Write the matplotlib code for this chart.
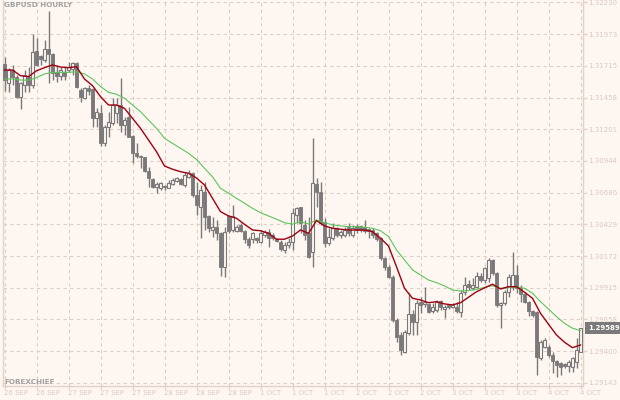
import matplotlib
matplotlib.use('Agg')
import matplotlib.pyplot as plt
import numpy as np

# ---------------- data (GBPUSD hourly) ----------------
opens = [
1.31728, 1.31574, 1.31682, 1.31628, 1.31466, 1.31560, 1.31628, 1.31560, 1.31836, 1.31798,
1.31763, 1.31852, 1.31812, 1.31668, 1.31636, 1.31668, 1.31682, 1.31690, 1.31736, 1.31520,
1.31453, 1.31534, 1.31528, 1.31295, 1.31333, 1.31092, 1.31222, 1.31250, 1.31333, 1.31398,
1.31236, 1.31303, 1.31147, 1.31011, 1.30984, 1.30974, 1.30865, 1.30798, 1.30730, 1.30725,
1.30741, 1.30727, 1.30757, 1.30784, 1.30795, 1.30749, 1.30816, 1.30844, 1.30668, 1.30573,
1.30695, 1.30498, 1.30384, 1.30406, 1.30362, 1.30081, 1.30498, 1.30384, 1.30378, 1.30425,
1.30376, 1.30309, 1.30309, 1.30317, 1.30289, 1.30343, 1.30370, 1.30343, 1.30309, 1.30289,
1.30222, 1.30262, 1.30289, 1.30506, 1.30568, 1.30425, 1.30357, 1.30208, 1.30757, 1.30695,
1.30451, 1.30276, 1.30317, 1.30398, 1.30343, 1.30343, 1.30411, 1.30343, 1.30417, 1.30417,
1.30406, 1.30390, 1.30384, 1.30357, 1.30317, 1.30154, 1.30086, 1.30005, 1.29654, 1.29532,
1.29397, 1.29546, 1.29703, 1.29640, 1.29802, 1.29784, 1.29784, 1.29727, 1.29735, 1.29810,
1.29741, 1.29776, 1.29762, 1.29762, 1.29721, 1.29883, 1.29946, 1.29911, 1.29924, 1.30011,
1.29978, 1.29992, 1.30141, 1.30033, 1.29776, 1.29789, 1.29883, 1.29924, 1.30019, 1.29911,
1.29862, 1.29802, 1.29727, 1.29721, 1.29343, 1.29437, 1.29437, 1.29370, 1.29321, 1.29303,
1.29294, 1.29283, 1.29272, 1.29316, 1.29397]

highs = [
1.31790, 1.31696, 1.31723, 1.31642, 1.31587, 1.31682, 1.31709, 1.31972, 1.31939, 1.31804,
1.31925, 1.32161, 1.31818, 1.31723, 1.31709, 1.31709, 1.31747, 1.31749, 1.31749, 1.31534,
1.31547, 1.31560, 1.31539, 1.31371, 1.31398, 1.31236, 1.31344, 1.31453, 1.31455, 1.31615,
1.31303, 1.31384, 1.31155, 1.31092, 1.30993, 1.30979, 1.30898, 1.30804, 1.30776, 1.30776,
1.30749, 1.30790, 1.30804, 1.30816, 1.30804, 1.30857, 1.30871, 1.30857, 1.30776, 1.30749,
1.30776, 1.30506, 1.30487, 1.30465, 1.30370, 1.30411, 1.30506, 1.30587, 1.30425, 1.30438,
1.30384, 1.30330, 1.30370, 1.30330, 1.30384, 1.30384, 1.30390, 1.30357, 1.30317, 1.30303,
1.30289, 1.30317, 1.30560, 1.30573, 1.30573, 1.30465, 1.30492, 1.31128, 1.30804, 1.30776,
1.30479, 1.30398, 1.30438, 1.30411, 1.30384, 1.30411, 1.30443, 1.30425, 1.30433, 1.30425,
1.30465, 1.30398, 1.30398, 1.30370, 1.30330, 1.30167, 1.30100, 1.30019, 1.29668, 1.29559,
1.29573, 1.29871, 1.29735, 1.29816, 1.29838, 1.29924, 1.29794, 1.29789, 1.29816, 1.29816,
1.29776, 1.29784, 1.29789, 1.29802, 1.29897, 1.30005, 1.29978, 1.29992, 1.30046, 1.30033,
1.30086, 1.30154, 1.30149, 1.30046, 1.29802, 1.29897, 1.30025, 1.30208, 1.30100, 1.29938,
1.29883, 1.29808, 1.29735, 1.29727, 1.29492, 1.29505, 1.29451, 1.29392, 1.29329, 1.29316,
1.29303, 1.29329, 1.29356, 1.29505, 1.29592]

lows = [
1.31512, 1.31506, 1.31560, 1.31453, 1.31366, 1.31506, 1.31501, 1.31534, 1.31717, 1.31723,
1.31749, 1.31574, 1.31601, 1.31587, 1.31601, 1.31601, 1.31666, 1.31642, 1.31534, 1.31425,
1.31447, 1.31479, 1.31222, 1.31222, 1.31066, 1.31066, 1.31141, 1.31236, 1.31252, 1.31182,
1.31155, 1.31136, 1.30930, 1.30966, 1.30885, 1.30857, 1.30730, 1.30727, 1.30687, 1.30709,
1.30709, 1.30725, 1.30749, 1.30773, 1.30749, 1.30735, 1.30804, 1.30654, 1.30506, 1.30317,
1.30384, 1.30370, 1.30330, 1.30303, 1.30013, 1.30005, 1.30357, 1.30370, 1.30370, 1.30368,
1.30276, 1.30236, 1.30276, 1.30276, 1.30276, 1.30330, 1.30248, 1.30303, 1.30287, 1.30216,
1.30200, 1.30238, 1.30222, 1.30438, 1.30357, 1.30303, 1.30154, 1.30086, 1.30573, 1.30425,
1.30248, 1.30262, 1.30303, 1.30330, 1.30317, 1.30330, 1.30335, 1.30330, 1.30357, 1.30370,
1.30357, 1.30317, 1.30317, 1.30297, 1.30141, 1.30060, 1.29992, 1.29640, 1.29478, 1.29370,
1.29384, 1.29532, 1.29532, 1.29532, 1.29708, 1.29762, 1.29713, 1.29708, 1.29721, 1.29735,
1.29668, 1.29743, 1.29751, 1.29708, 1.29681, 1.29857, 1.29897, 1.29897, 1.29911, 1.29965,
1.29952, 1.29965, 1.30019, 1.29762, 1.29591, 1.29776, 1.29843, 1.29897, 1.29871, 1.29802,
1.29789, 1.29689, 1.29681, 1.29208, 1.29329, 1.29429, 1.29356, 1.29221, 1.29194, 1.29208,
1.29262, 1.29234, 1.29234, 1.29262, 1.29392]

closes = [
1.31601, 1.31682, 1.31628, 1.31466, 1.31574, 1.31642, 1.31560, 1.31831, 1.31723, 1.31771,
1.31852, 1.31809, 1.31655, 1.31636, 1.31682, 1.31636, 1.31709, 1.31736, 1.31547, 1.31466,
1.31534, 1.31512, 1.31295, 1.31339, 1.31090, 1.31222, 1.31263, 1.31398, 1.31398, 1.31236,
1.31276, 1.31141, 1.31011, 1.30984, 1.30974, 1.30865, 1.30804, 1.30735, 1.30757, 1.30763,
1.30730, 1.30768, 1.30790, 1.30804, 1.30757, 1.30830, 1.30849, 1.30668, 1.30587, 1.30709,
1.30492, 1.30398, 1.30411, 1.30357, 1.30086, 1.30370, 1.30378, 1.30498, 1.30411, 1.30378,
1.30309, 1.30262, 1.30357, 1.30303, 1.30362, 1.30370, 1.30317, 1.30317, 1.30297, 1.30227,
1.30262, 1.30289, 1.30520, 1.30560, 1.30438, 1.30343, 1.30167, 1.30763, 1.30695, 1.30438,
1.30276, 1.30330, 1.30398, 1.30343, 1.30370, 1.30384, 1.30357, 1.30398, 1.30384, 1.30384,
1.30378, 1.30378, 1.30343, 1.30309, 1.30154, 1.30086, 1.30005, 1.29654, 1.29518, 1.29410,
1.29559, 1.29703, 1.29640, 1.29789, 1.29776, 1.29802, 1.29721, 1.29762, 1.29802, 1.29762,
1.29762, 1.29762, 1.29776, 1.29729, 1.29871, 1.29938, 1.29919, 1.29938, 1.30011, 1.29978,
1.30073, 1.30141, 1.30033, 1.29776, 1.29789, 1.29883, 1.30005, 1.30019, 1.29911, 1.29862,
1.29802, 1.29727, 1.29694, 1.29356, 1.29478, 1.29492, 1.29370, 1.29321, 1.29289, 1.29275,
1.29283, 1.29316, 1.29343, 1.29410, 1.29589]

# moving averages, read at every second bar
ma_bars = list(range(0, 145, 2))
ma_fast = [
1.31682, 1.31682, 1.31636, 1.31628, 1.31676, 1.31701, 1.31723, 1.31706, 1.31701, 1.31709,
1.31609, 1.31555, 1.31466, 1.31398, 1.31398, 1.31371, 1.31290, 1.31209, 1.31114, 1.31019,
1.30903, 1.30877, 1.30857, 1.30844, 1.30806, 1.30749, 1.30641, 1.30533, 1.30498, 1.30479,
1.30430, 1.30384, 1.30378, 1.30357, 1.30309, 1.30309, 1.30335, 1.30384, 1.30357, 1.30460,
1.30417, 1.30398, 1.30390, 1.30384, 1.30384, 1.30384, 1.30370, 1.30317, 1.30254, 1.30086,
1.29911, 1.29830, 1.29816, 1.29794, 1.29802, 1.29784, 1.29776, 1.29794, 1.29838, 1.29883,
1.29914, 1.29944, 1.29905, 1.29924, 1.29924, 1.29879, 1.29830, 1.29708, 1.29619, 1.29532,
1.29473, 1.29429, 1.29451]
ma_slow = [
1.31609, 1.31609, 1.31601, 1.31599, 1.31620, 1.31650, 1.31663, 1.31663, 1.31663, 1.31668,
1.31650, 1.31609, 1.31548, 1.31501, 1.31485, 1.31453, 1.31398, 1.31344, 1.31276, 1.31209,
1.31128, 1.31087, 1.31047, 1.31006, 1.30956, 1.30885, 1.30816, 1.30722, 1.30682, 1.30641,
1.30601, 1.30560, 1.30524, 1.30498, 1.30471, 1.30443, 1.30431, 1.30451, 1.30433, 1.30465,
1.30443, 1.30425, 1.30417, 1.30411, 1.30411, 1.30406, 1.30398, 1.30378, 1.30331, 1.30222,
1.30141, 1.30060, 1.30019, 1.29978, 1.29957, 1.29930, 1.29897, 1.29889, 1.29892, 1.29903,
1.29918, 1.29932, 1.29911, 1.29916, 1.29924, 1.29911, 1.29871, 1.29802, 1.29743, 1.29681,
1.29627, 1.29587, 1.29567]

price_ticks = [1.32230, 1.31973, 1.31715, 1.31458, 1.31201, 1.30944, 1.30686,
               1.30429, 1.30172, 1.29915, 1.29658, 1.29400, 1.29143]
time_tick_bars = list(range(0, 145, 8))
time_labels = ["26 SEP", "26 SEP", "27 SEP", "27 SEP", "27 SEP", "28 SEP", "28 SEP",
               "28 SEP", "1 OCT", "1 OCT", "1 OCT", "2 OCT", "2 OCT", "2 OCT",
               "3 OCT", "3 OCT", "3 OCT", "4 OCT", "4 OCT"]
last_price = 1.29589
title = "GBPUSD HOURLY"
brand = "FOREXCHIEF"

# ---------------- styling ----------------
BG = '#FEF7F1'
GRID = '#DCCDC6'
AXC = '#E2D2CA'
LBL = '#DCC8C0'
CANDLE = '#7A7878'
RED = '#A00010'
GREEN = '#5CC45C'
FS = 5.0

fig = plt.figure(figsize=(6.2, 4.0), dpi=100)
fig.patch.set_facecolor(BG)
ax = fig.add_axes([3 / 620, 14 / 400, 580 / 620, 386 / 400])
ax.set_facecolor(BG)

o = np.array(opens); h = np.array(highs); l = np.array(lows); c = np.array(closes)
h = np.maximum(h, np.maximum(o, c))
l = np.minimum(l, np.minimum(o, c))
x = np.arange(len(o))

# wicks
ax.vlines(x, l, h, color=CANDLE, linewidth=1.0, zorder=2)
# bodies
bull = c >= o
body_low = np.minimum(o, c)
body_h = np.maximum(np.abs(c - o), 0.00005)
ax.bar(x[~bull], body_h[~bull], bottom=body_low[~bull], width=0.72,
       color=CANDLE, edgecolor=CANDLE, linewidth=0.6, zorder=3)
ax.bar(x[bull], body_h[bull], bottom=body_low[bull], width=0.72,
       color=BG, edgecolor=CANDLE, linewidth=0.8, zorder=3)

# moving averages
ax.plot(ma_bars, ma_slow, color=GREEN, linewidth=0.8, zorder=4)
ax.plot(ma_bars, ma_fast, color=RED, linewidth=1.0, zorder=5)

ax.set_xlim(-0.375, 144.625)
ax.set_ylim(1.29118, 1.32250)

# axes, grid
ax.spines['top'].set_visible(False)
for s in ['left', 'right', 'bottom']:
    ax.spines[s].set_color(AXC)
    ax.spines[s].set_linewidth(1.0)

ax.yaxis.tick_right()
ax.set_yticks(price_ticks)
ax.set_yticklabels([f"{p:.5f}" for p in price_ticks])
ax.set_xticks(time_tick_bars)
ax.set_xticklabels(time_labels)
ax.tick_params(axis='y', direction='out', length=3, width=1, color=AXC,
               labelcolor=LBL, labelsize=FS, pad=1)
ax.tick_params(axis='x', direction='out', length=2.5, width=1, color=AXC,
               labelcolor=LBL, labelsize=FS, pad=0.5)
for lb in ax.get_xticklabels():
    lb.set_horizontalalignment('left')
ax.grid(True, color=GRID, linestyle=(0, (3, 3)), linewidth=0.8, zorder=0)
ax.set_axisbelow(True)

# title and brand
fig.text(4 / 620, 1 - 2 / 400, title, color='#A2A2A2', fontsize=5.2,
         fontweight='bold', va='top', ha='left')
fig.text(4 / 620, 1 - 385 / 400, brand, color='#A2A2A2', fontsize=5.2,
         fontweight='bold', va='bottom', ha='left')

# last price marker
ax.annotate(f"{last_price:.5f}", xy=(1, last_price), xycoords=('axes fraction', 'data'),
            xytext=(3.5, 0), textcoords='offset points', ha='left', va='center',
            color='white', fontsize=FS, fontweight='bold', annotation_clip=False,
            bbox=dict(boxstyle='square,pad=0.4', fc='#7A7A7A', ec='none'))

fig.savefig('out.png', dpi=100, facecolor=BG)
